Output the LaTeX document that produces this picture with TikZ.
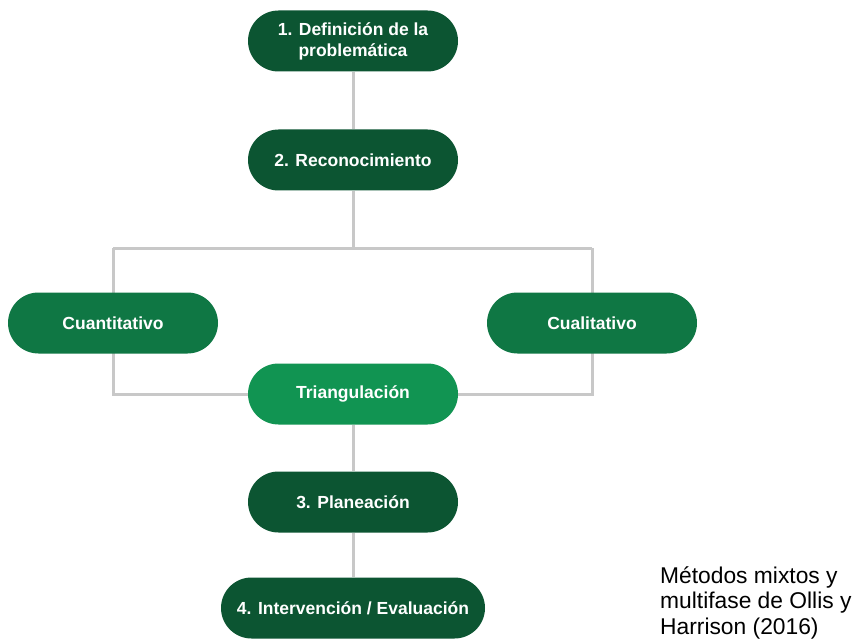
\documentclass[tikz,border=0pt]{standalone}
\usepackage{fontspec}
\setmainfont{Liberation Sans}
\usetikzlibrary{backgrounds}
\definecolor{gdark}{RGB}{12,85,50}
\definecolor{gmid}{RGB}{15,119,68}
\definecolor{glight}{RGB}{17,148,82}
\definecolor{lgrey}{RGB}{200,200,200}
\tikzset{
  pill/.style={rectangle, rounded corners=30.5pt, minimum width=210pt, minimum height=61pt,
    text=white, align=center, inner sep=0pt,
    font=\fontsize{17.5}{21}\selectfont\bfseries},
  conn/.style={draw=lgrey, line width=3pt}
}
\begin{document}
\begin{tikzpicture}[x=1pt,y=-1pt]
\useasboundingbox (0,0) rectangle (864,639);
\node[pill, fill=gdark] (n1) at (353,41) {1. Definición de la\\problemática};
\node[pill, fill=gdark] (n2) at (353,160) {2. Reconocimiento};
\node[pill, fill=gmid] (quant) at (113,323) {Cuantitativo};
\node[pill, fill=gmid] (qual) at (592,323) {Cualitativo};
\node[pill, fill=glight] (tri) at (353,394) {Triangulación};
\node[pill, fill=gdark] (n3) at (353,502) {3. Planeación};
\node[pill, fill=gdark, minimum width=264pt] (n4) at (353,608) {4. Intervención / Evaluación};
\coordinate (split) at (353,248);
\coordinate (sl) at (113,248);
\coordinate (sr) at (592,248);
\node[anchor=base west, align=left, inner sep=0pt, font=\fontsize{22.8}{25.5}\selectfont] (cap) at (660,634)
  {Métodos mixtos y\\multifase de Ollis y\\Harrison (2016)};
\begin{pgfonlayer}{background}
\draw[conn] (n1) -- (n2);
\draw[conn] (n2) -- (split);
\draw[conn] (sl) -- (sr);
\draw[conn] (sl) |- (tri.west);
\draw[conn] (sr) |- (tri.east);
\draw[conn] (tri) -- (n3);
\draw[conn] (n3) -- (n4);
\end{pgfonlayer}
\end{tikzpicture}
\end{document}
